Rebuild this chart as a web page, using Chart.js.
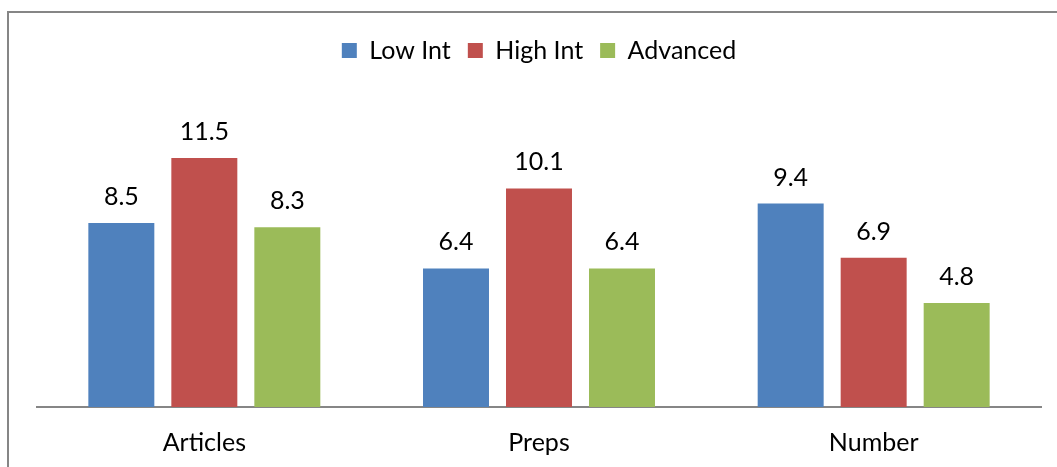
<!DOCTYPE html>
<html>
<head>
<meta charset="utf-8">
<script src="https://cdn.jsdelivr.net/npm/chart.js@4"></script>
<style>
  html, body { margin: 0; padding: 0; background: #fff; overflow: hidden; }
  #wrap { position: relative; width: 1057px; height: 467px; overflow: hidden; }
  #frame {
    position: absolute; left: 7px; top: 11px; width: 1200px; height: 600px;
    border-left: 2px solid #868686; border-top: 2px solid #868686;
  }
  #chart { position: absolute; left: 0; top: 0; }
</style>
</head>
<body>
<div id="wrap">
  <div id="frame"></div>
  <canvas id="chart" width="1057" height="479"></canvas>
</div>
<script>
const categories = ['Articles', 'Preps', 'Number'];
const lowInt = [8.5, 6.4, 9.4];
const highInt = [11.5, 10.1, 6.9];
const advanced = [8.3, 6.4, 4.8];

const FONT = 'Lato, "Open Sans", sans-serif';

// value labels above each bar
const barLabels = {
    id: 'barLabels',
    afterDatasetsDraw(chart) {
        const ctx = chart.ctx;
        ctx.save();
        ctx.font = '25px ' + FONT;
        ctx.fillStyle = '#000';
        ctx.textAlign = 'center';
        ctx.textBaseline = 'alphabetic';
        chart.data.datasets.forEach((ds, i) => {
            chart.getDatasetMeta(i).data.forEach((bar, j) => {
                ctx.fillText(ds.data[j].toFixed(1), bar.x, bar.y - 18);
            });
        });
        ctx.restore();
    }
};

// push the plot area down below the legend
const legendSpace = {
    id: 'legendSpace',
    beforeInit(chart) {
        const fit = chart.legend.fit;
        chart.legend.fit = function () {
            fit.bind(chart.legend)();
            this.height += 31;
        };
    }
};

new Chart(document.getElementById('chart'), {
    type: 'bar',
    data: {
        labels: categories,
        datasets: [
            { label: 'Low Int', data: lowInt, backgroundColor: '#4F81BD' },
            { label: 'High Int', data: highInt, backgroundColor: '#C0504D' },
            { label: 'Advanced', data: advanced, backgroundColor: '#9BBB59' }
        ]
    },
    options: {
        responsive: false,
        animation: false,
        categoryPercentage: 0.744,
        barPercentage: 0.795,
        layout: { padding: { left: 37, right: 16, top: 21, bottom: 0 } },
        scales: {
            x: {
                grid: { display: false, drawTicks: false },
                border: { color: '#868686', width: 2 },
                ticks: { color: '#000', padding: 21, font: { family: FONT, size: 25 } }
            },
            y: {
                display: false,
                min: 0,
                max: 14
            }
        },
        plugins: {
            legend: {
                labels: {
                    color: '#000',
                    boxWidth: 15,
                    boxHeight: 15,
                    padding: 17,
                    font: { family: FONT, size: 25 }
                }
            },
            tooltip: { enabled: false }
        }
    },
    plugins: [barLabels, legendSpace]
});
</script>
</body>
</html>
